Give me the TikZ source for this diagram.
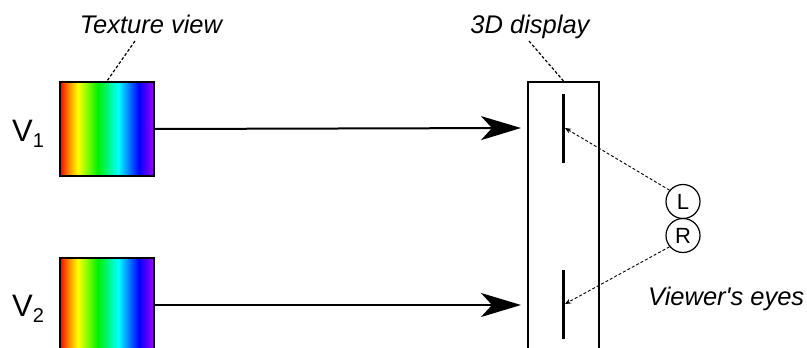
\documentclass[tikz,border=0pt]{standalone}
\usepackage{fontspec}
\setmainfont{Liberation Sans}
\usetikzlibrary{arrows.meta}
\definecolor{rbred}{HTML}{FF0000}
\definecolor{rborange}{HTML}{FF7A00}
\definecolor{rbyellow}{HTML}{FFFF00}
\definecolor{rbygreen}{HTML}{90FF00}
\definecolor{rbgreen}{HTML}{00F000}
\definecolor{rbcyan}{HTML}{00FFFF}
\definecolor{rbblue}{HTML}{0000FF}
\definecolor{rbviolet}{HTML}{A000FF}
\pgfdeclarehorizontalshading{rainbow}{100bp}{color(0bp)=(rbred); color(25bp)=(rbred); color(29bp)=(rborange); color(34.5bp)=(rbyellow); color(39bp)=(rbygreen); color(45bp)=(rbgreen); color(56bp)=(rbcyan); color(67bp)=(rbblue); color(75bp)=(rbviolet); color(100bp)=(rbviolet)}
\tikzset{
  texbox/.style={draw, line width=2pt, shading=rainbow, minimum width=94pt, minimum height=94pt, inner sep=0pt, anchor=north west},
  vlabel/.style={font=\fontsize{31}{31}\selectfont, anchor=base west, inner sep=0pt},
  caption/.style={font=\fontsize{25.5}{25.5}\selectfont\itshape, inner sep=0pt},
  leader/.style={densely dashed, line width=1.2pt},
  bigarrow/.style={line width=2pt, -{Stealth[length=40pt,width=24pt,inset=11pt]}},
  eyearrow/.style={densely dashed, line width=0.9pt, -{Stealth[length=6pt,width=5pt]}},
  eye/.style={circle, draw, line width=1.2pt, minimum size=34pt, inner sep=0pt, font=\fontsize{22}{22}\selectfont},
  bar/.style={line width=3pt}
}
\begin{document}
\begin{tikzpicture}[x=1pt,y=-1pt]
\useasboundingbox (0,0) rectangle (807,348);
\clip (0,0) rectangle (807,348);
% texture views
\node[texbox] (tv1) at (59,81) {};
\node[texbox] (tv2) at (59,257) {};
\node[vlabel] (v1) at (12,141) {V\raisebox{-6pt}{\fontsize{20}{20}\selectfont 1}};
\node[vlabel] (v2) at (12,316) {V\raisebox{-6pt}{\fontsize{20}{20}\selectfont 2}};
\node[caption, anchor=base] (tvl) at (151,34) {Texture view};
\coordinate (tvlead) at (135,41);
\draw[leader] (tvlead) -- (tv1.north);
% display
\node[draw, line width=2pt, minimum width=71pt, minimum height=330pt, inner sep=0pt, anchor=north] (disp) at (563.5,81) {};
\node[caption, anchor=base] (dl) at (530,34) {3D display};
\coordinate (dlead) at (529,41);
\draw[leader] (dlead) -- (disp.north);
\coordinate (b1t) at (563.5,94);
\coordinate (b1b) at (563.5,163);
\coordinate (b2t) at (563.5,270);
\coordinate (b2b) at (563.5,339);
\draw[bar] (b1t) -- (b1b);
\draw[bar] (b2t) -- (b2b);
\coordinate (t1) at (565,128);
\coordinate (t2) at (565,304);
% big arrows
\coordinate (a1) at (521,128);
\coordinate (a2) at (521,305);
\draw[bigarrow] (tv1.east) -- (a1);
\draw[bigarrow] (tv2.east |- a2) -- (a2);
% eyes
\node[eye] (eyeL) at (683,201.5) {L};
\node[eye] (eyeR) at (683,235.5) {R};
\draw[eyearrow] (eyeL.140) -- (t1);
\draw[eyearrow] (eyeR.220) -- (t2);
\node[caption, anchor=base west] (ve) at (648,305) {Viewer\textquotesingle s eyes};
\end{tikzpicture}
\end{document}
